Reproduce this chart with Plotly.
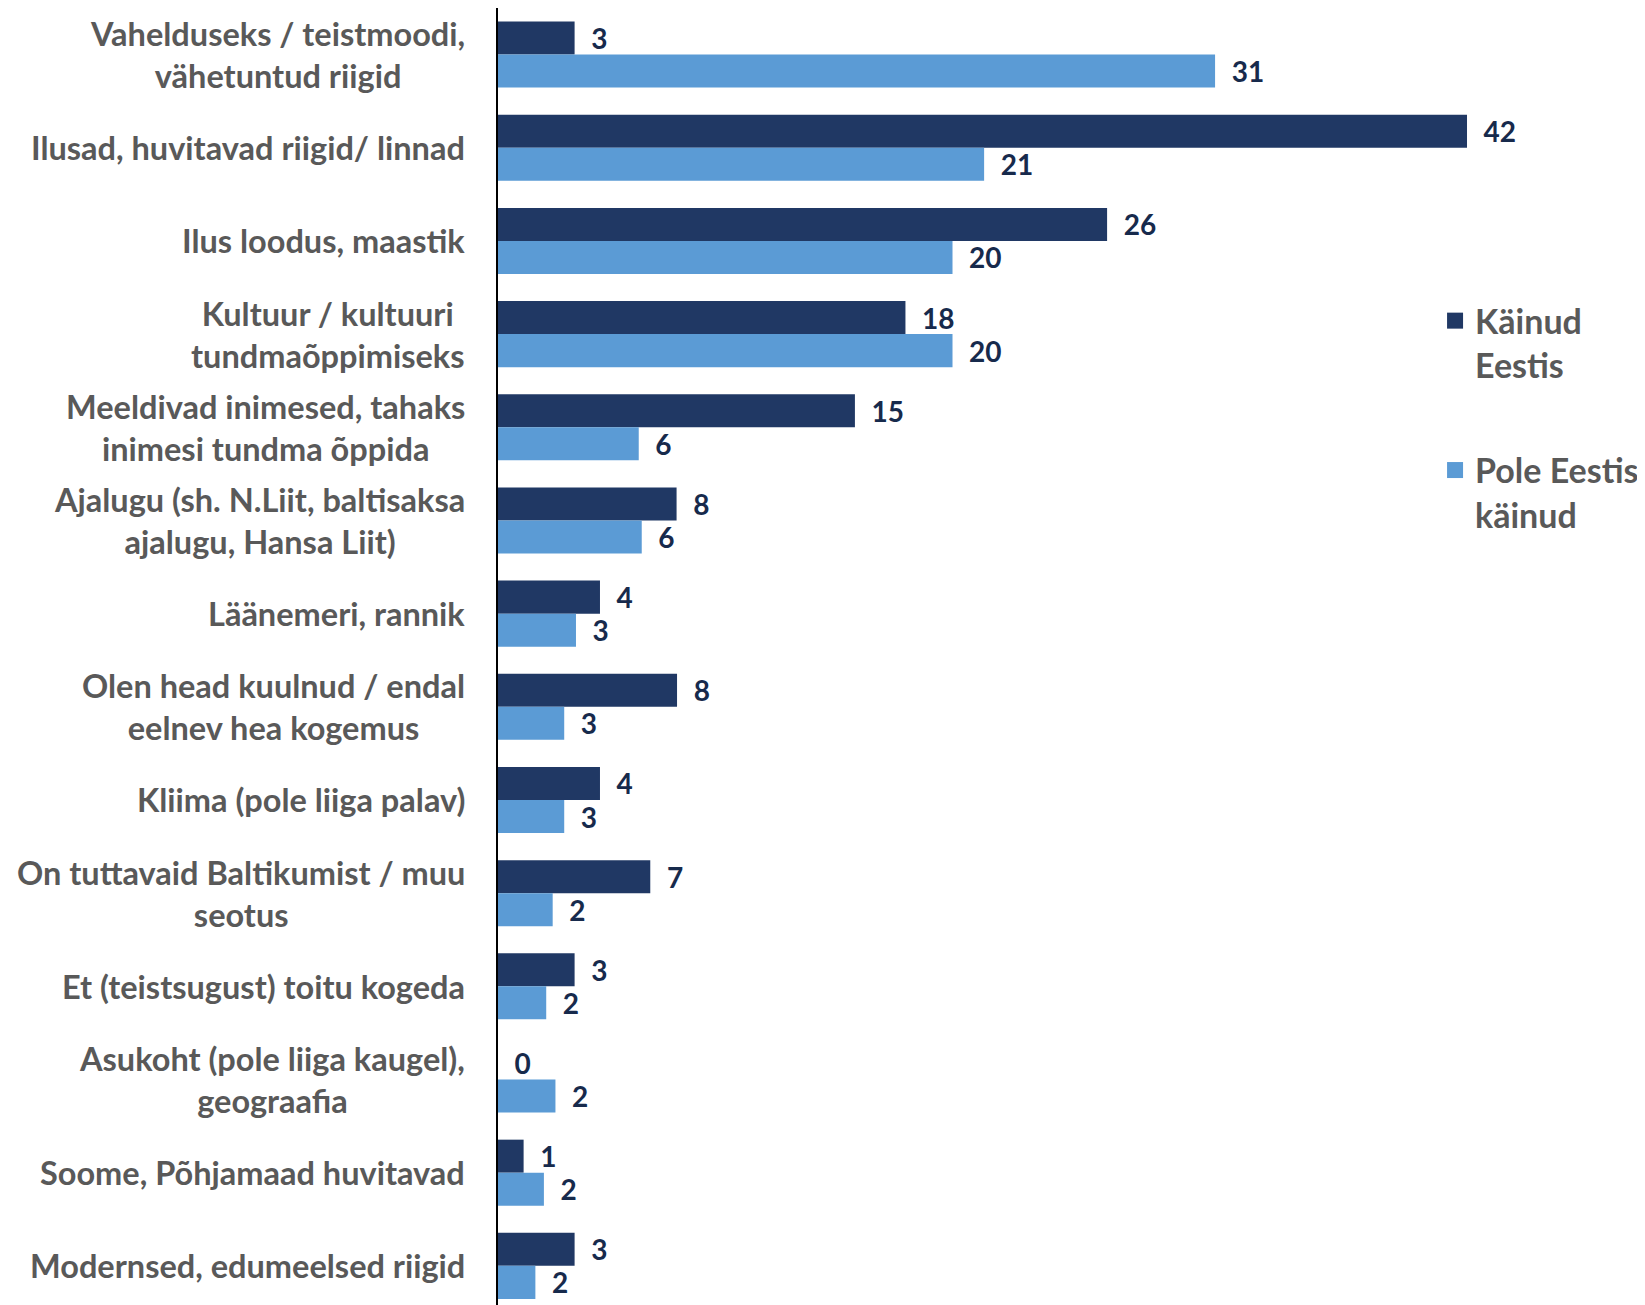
import plotly.graph_objects as go

categories = [
    "Vahelduseks / teistmoodi,<br>vähetuntud riigid",
    "Ilusad, huvitavad riigid/ linnad",
    "Ilus loodus, maastik",
    "Kultuur / kultuuri<br>tundmaõppimiseks",
    "Meeldivad inimesed, tahaks<br>inimesi tundma õppida",
    "Ajalugu (sh. N.Liit, baltisaksa<br>ajalugu, Hansa Liit)",
    "Läänemeri, rannik",
    "Olen head kuulnud / endal<br>eelnev hea kogemus",
    "Kliima (pole liiga palav)",
    "On tuttavaid Baltikumist / muu<br>seotus",
    "Et (teistsugust) toitu kogeda",
    "Asukoht (pole liiga kaugel),<br>geograafia",
    "Soome, Põhjamaad huvitavad",
    "Modernsed, edumeelsed riigid",
]
# bar lengths
kainud = [3.32, 42.0, 26.4, 17.66, 15.47, 7.74, 4.42, 7.76, 4.42, 6.60, 3.32, 0.0, 1.11, 3.32]
pole = [31.08, 21.07, 19.70, 19.70, 6.10, 6.23, 3.38, 2.87, 2.87, 2.37, 2.09, 2.49, 1.99, 1.62]
# printed data labels
kainud_labels = [3, 42, 26, 18, 15, 8, 4, 8, 4, 7, 3, 0, 1, 3]
pole_labels = [31, 21, 20, 20, 6, 6, 3, 3, 3, 2, 2, 2, 2, 2]
series_names = ["Käinud<br>Eestis", "Pole Eestis<br>käinud"]
colors = ["#203864", "#5B9BD5"]

FONT = "Lato"
label_color = "#172a4c"
NB = "\u00a0\u00a0"

fig = go.Figure()
for name, vals, labs, col in zip(series_names, [kainud, pole], [kainud_labels, pole_labels], colors):
    fig.add_trace(go.Bar(
        y=categories, x=vals, orientation="h", name=name,
        marker=dict(color=col, line=dict(width=0)),
        text=[NB + str(l) for l in labs],
        textposition="outside", cliponaxis=False, constraintext="none",
        textfont=dict(family=FONT, size=28, color=label_color, weight="bold"),
        showlegend=False,
    ))
for i, (name, col) in enumerate(zip(series_names, colors)):
    fig.add_trace(go.Scatter(
        x=[None], y=[None], mode="markers", name=name, legendgroup=f"g{i}",
        marker=dict(symbol="square", size=16, color=col),
    ))

for c in categories:
    fig.add_annotation(
        x=-0.030, xref="paper", y=c, yref="y", text=c, showarrow=False,
        xanchor="right", yanchor="middle", align="center",
        font=dict(family=FONT, size=32.5, color="#595959", weight="bold"),
    )

fig.update_layout(
    width=1637, height=1297,
    margin=dict(l=490, r=115, t=0, b=0),
    paper_bgcolor="white", plot_bgcolor="white",
    barmode="group", bargap=0.291, bargroupgap=0,
    xaxis=dict(range=[0, 44.73], visible=False, showgrid=False, zeroline=False),
    yaxis=dict(type="category", range=[13.42, -0.5], showticklabels=False,
               showgrid=False, zeroline=False, showline=True,
               linecolor="#000000", linewidth=2, ticks=""),
    legend=dict(x=0.908, y=0.781, xanchor="left", yanchor="top",
                font=dict(family=FONT, size=34, color="#595959", weight="bold"),
                valign="top", tracegroupgap=58, bgcolor="rgba(0,0,0,0)",
                itemsizing="trace"),
    showlegend=True,
)

fig.write_html("out.html")
